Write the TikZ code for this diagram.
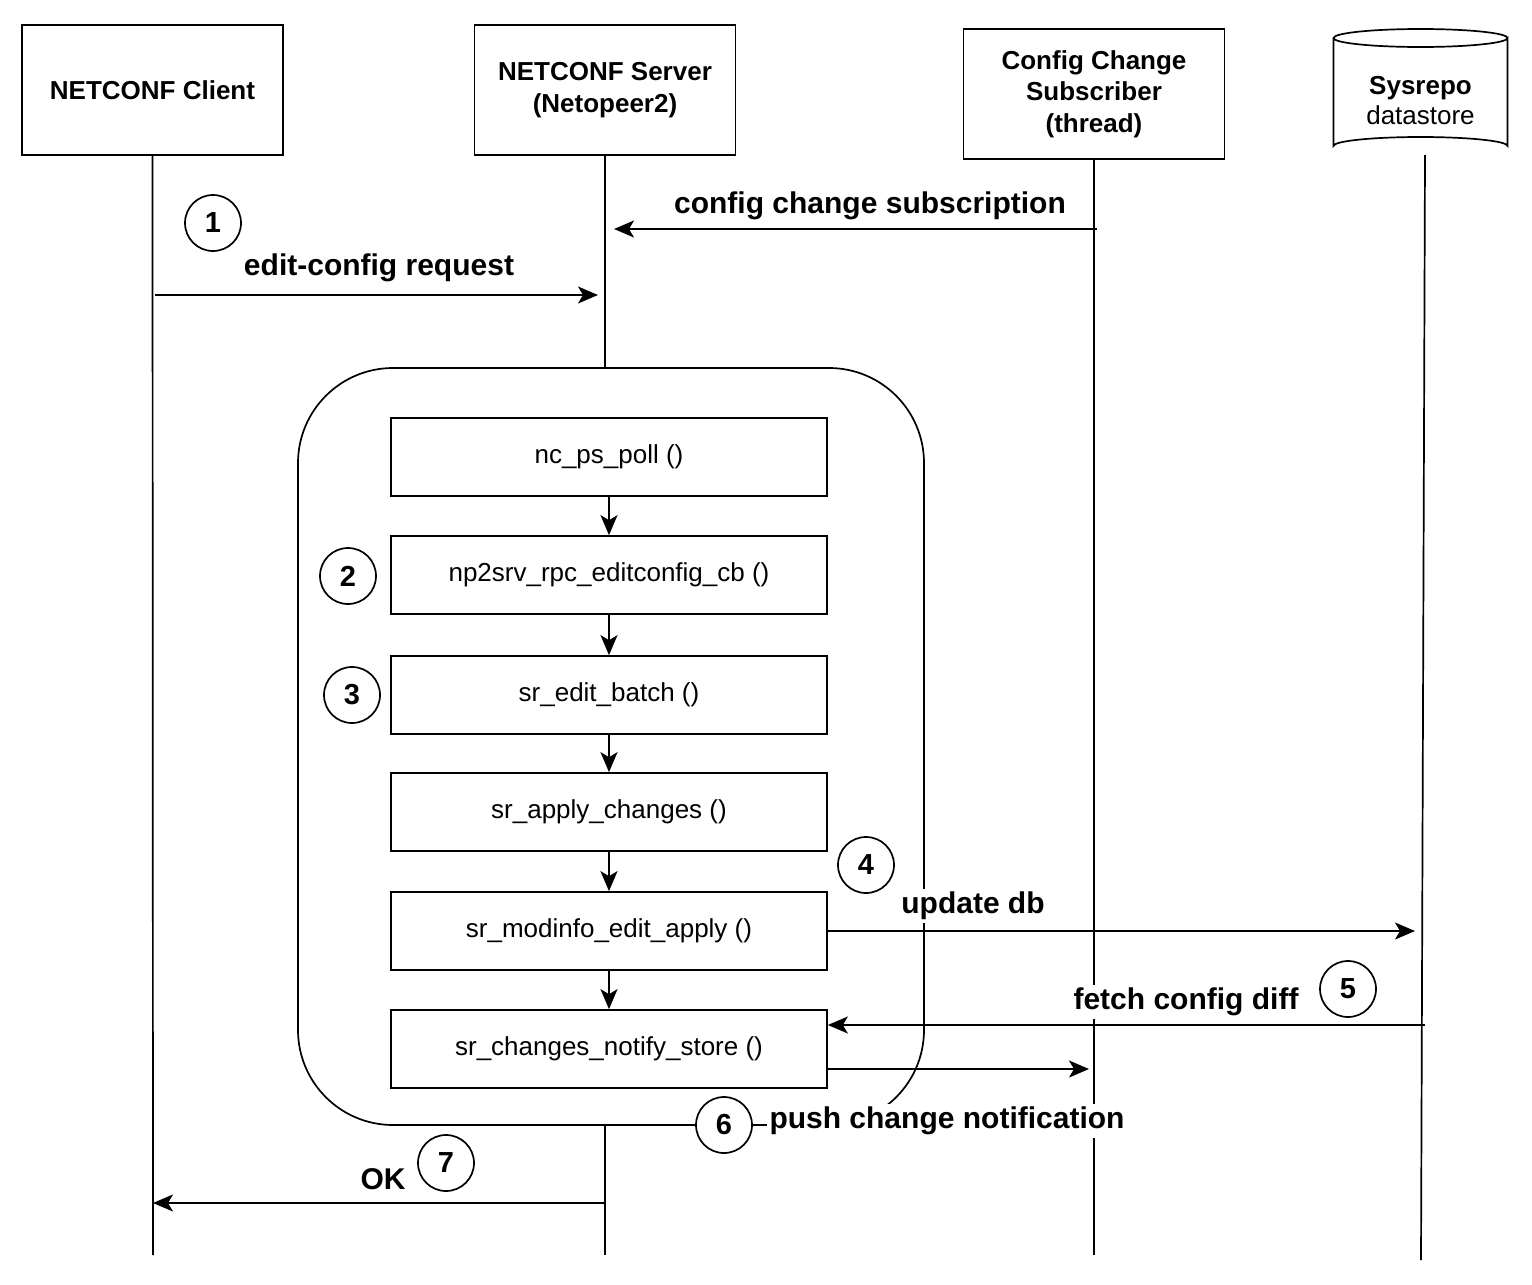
\documentclass[tikz,border=0pt]{standalone}
\usepackage{fontspec}
\setmainfont{Liberation Sans}
\usetikzlibrary{arrows.meta}
\tikzset{
	actor/.style={draw, line width=1.7pt, minimum width=261pt, minimum height=130pt,
		align=center, font=\fontsize{26}{31.5}\selectfont\bfseries},
	func/.style={draw, line width=1.7pt, minimum width=436pt, minimum height=78pt,
		font=\fontsize{26}{31}\selectfont},
	stepnum/.style={draw, circle, line width=1.7pt, minimum size=56pt, inner sep=0pt,
		fill=white, font=\fontsize{29}{34}\selectfont\bfseries},
	msg/.style={fill=white, inner sep=3pt, font=\fontsize{30}{36}\selectfont\bfseries},
	life/.style={line width=1.7pt},
	call/.style={line width=1.7pt, -{Stealth[length=20pt,width=17pt,inset=5pt]}}
}
\begin{document}
\begin{tikzpicture}[x=1pt,y=1pt,yscale=-1]
\useasboundingbox (0,0) rectangle (1532,1285);

% participants
\node[actor] (client) at (152.5,90) {NETCONF Client};
\node[actor] (server) at (605,90) {NETCONF Server\\(Netopeer2)};
\node[actor] (sub) at (1094,94) {Config Change\\Subscriber\\(thread)};

% datastore
\draw[line width=1.7pt] (1333.5,38) -- (1333.5,146)
	arc[start angle=180, end angle=360, x radius=87, y radius=9] -- (1507.5,38)
	arc[start angle=0, end angle=360, x radius=87, y radius=9];
\node[align=center, font=\fontsize{26}{30}\selectfont] (db) at (1420.5,101) {\textbf{Sysrepo}\\datastore};

\coordinate (clientEnd) at (153,1255);
\coordinate (serverEnd) at (605,1255);
\coordinate (subEnd) at (1094,1255);
\coordinate (dbTop) at (1425,155);
\coordinate (dbEnd) at (1421,1260);

% server loop
\node[draw, line width=1.7pt, rounded corners=95pt, minimum width=626pt, minimum height=757pt] (loop) at (611,746.5) {};

% lifelines
\draw[life] (client.south) -- (clientEnd);
\draw[life] (server.south) -- (server.south |- loop.north);
\draw[life] (server.south |- loop.south) -- (serverEnd);
\draw[life] (sub.south) -- (subEnd);
\draw[life] (dbTop) -- (dbEnd);

% call chain
\node[func] (poll) at (609,457) {nc\_ps\_poll ()};
\node[func] (editcb) at (609,575) {np2srv\_rpc\_editconfig\_cb ()};
\node[func] (batch) at (609,695) {sr\_edit\_batch ()};
\node[func] (apply) at (609,812) {sr\_apply\_changes ()};
\node[func] (modinfo) at (609,931) {sr\_modinfo\_edit\_apply ()};
\node[func] (notify) at (609,1049) {sr\_changes\_notify\_store ()};
\draw[call] (poll) -- (editcb);
\draw[call] (editcb) -- (batch);
\draw[call] (batch) -- (apply);
\draw[call] (apply) -- (modinfo);
\draw[call] (modinfo) -- (notify);

% messages
\coordinate (reqA) at (155,295);
\coordinate (reqB) at (598,295);
\coordinate (subA) at (1097,229);
\coordinate (subB) at (614,229);
\coordinate (updB) at (1415,931);
\coordinate (diffA) at (1425,1025);
\coordinate (pushB) at (1089,1069);
\coordinate (okA) at (605,1203);
\coordinate (okB) at (153,1203);
\draw[call] (reqA) -- (reqB);
\draw[call] (subA) -- (subB);
\draw[call] (modinfo.east) -- (updB);
\draw[call] (diffA) -- (notify.east |- diffA);
\draw[call] (notify.east |- pushB) -- (pushB);
\draw[call] (okA) -- (okB);

\node[msg] (reqLbl) at (379,268) {edit-config request};
\node[msg] (subLbl) at (870,206) {config change subscription};
\node[msg] (updLbl) at (973,906) {update db};
\node[msg] (diffLbl) at (1186,1002) {fetch config diff};
\node[msg] (pushLbl) at (947,1121) {push change notification};
\node[msg] (okLbl) at (383,1179) {OK};

% step numbers
\node[stepnum] (s1) at (213,223) {1};
\node[stepnum] (s2) at (348,576) {2};
\node[stepnum] (s3) at (352,695) {3};
\node[stepnum] (s4) at (866,865) {4};
\node[stepnum] (s5) at (1348,989) {5};
\node[stepnum] (s6) at (724,1125) {6};
\node[stepnum] (s7) at (446,1163) {7};

\end{tikzpicture}
\end{document}
